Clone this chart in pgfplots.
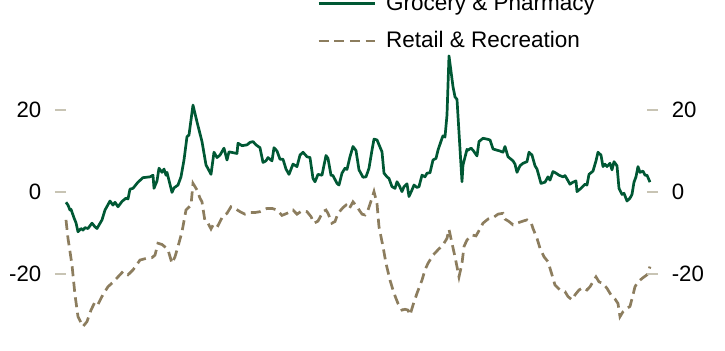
\documentclass[border=0pt]{standalone}
\usepackage{pgfplots}
\pgfplotsset{compat=1.18}
\usepackage{fontspec}
\setmainfont{Liberation Sans}

\definecolor{grocery}{RGB}{0,88,52}
\definecolor{retail}{RGB}{140,125,94}
\definecolor{tickgrey}{RGB}{200,196,180}

\pgfplotsset{
  base/.style={
    x=0.5pt, y=2.05pt,
    xmin=66, xmax=647, ymin=-38.54, ymax=46.83,
    axis x line=none,
    clip=false,
    ytick={-20,0,20},
    yticklabels={-20,0,20},
    tick align=outside,
    major tick length=5.5pt,
    y axis line style={draw=none},
    ytick style={draw=tickgrey, line width=1pt},
    yticklabel style={font=\fontsize{11.1}{13}\selectfont, inner sep=0pt},
  }
}

\begin{document}
\begin{tikzpicture}
\begin{axis}[
    base,
    axis y line*=left,
    yticklabel style={xshift=-6.7pt},
    legend style={at={(axis cs:317,33.4)}, anchor=south west, draw=none, fill=none,
        inner sep=0pt, row sep=5pt, font=\fontsize{11.25}{13}\selectfont},
    legend cell align=left,
    legend image code/.code={\draw[#1] (0pt,0pt) -- (28pt,0pt); \path (31pt,0pt);},
  ]
  \coordinate (bl) at (axis cs:0,-38.54);
  \coordinate (tr) at (axis cs:725,46.83);

  % Grocery & Pharmacy
  \addplot[grocery, line width=1.35pt, line join=round] coordinates {
    (66,-2.5)(68,-3.2)(70,-4.4)(71,-4.2)(74,-6.3)(76,-7.5)(78,-9.7)(81,-8.9)(83,-9.3)(85,-8.7)
    (88,-8.9)(92,-7.6)(95,-8.5)(97,-8.9)(102,-6.8)(105,-4.4)(110,-2.2)(113,-3.2)(115,-2.5)(118,-3.6)
    (122,-2.3)(126,-1.5)(128,-1.7)(130,0.7)(133,0.9)(138,2.4)(143,3.5)(150,3.7)(153,4.1)(154,0.9)
    (157,2.7)(159,5.8)(162,4.8)(164,5.6)(166,4.1)(167,4.8)(172,-0.1)(174,1.0)(178,1.7)(181,3.7)
    (184,7.8)(187,13.5)(189,13.9)(193,21.2)(197,17.1)(202,12.3)(206,6.6)(210,4.8)(211,4.3)(214,9.7)
    (217,8.4)(220,9.0)(224,10.7)(227,7.8)(229,9.8)(237,9.4)(238,11.9)(242,11.3)(247,11.5)(250,12.1)
    (253,12.3)(256,11.5)(260,10.8)(263,7.2)(266,7.6)(268,8.4)(272,7.6)(274,10.8)(277,10.0)(280,8.0)
    (283,8.0)(286,5.6)(289,4.3)(293,6.8)(297,6.2)(300,9.0)(303,9.7)(307,8.6)(310,8.4)(313,3.3)
    (315,2.5)(318,4.3)(322,4.1)(326,8.9)(328,8.2)(331,4.1)(333,4.0)(337,2.1)(339,1.7)(342,4.6)
    (345,5.8)(347,5.5)(350,8.6)(353,11.1)(356,10.1)(359,5.4)(363,3.6)(366,3.7)(369,5.8)(372,10.2)
    (374,12.9)(377,12.7)(382,9.8)(384,4.6)(387,3.7)(389,3.3)(392,1.3)(395,0.9)(397,2.5)(399,1.7)
    (402,0.1)(404,1.3)(407,2.0)(409,-1.1)(412,0.5)(414,1.7)(417,1.1)(419,1.3)(422,4.1)(425,3.7)
    (427,4.6)(430,4.7)(433,7.8)(436,8.2)(438,10.2)(442,13.1)(443,13.7)(445,13.4)(447,18.8)(449,33.2)
    (453,25.7)(455,23.2)(457,22.6)(462,2.5)(463,6.6)(467,10.4)(468,10.2)(471,10.7)(473,10.2)(477,8.8)
    (479,12.3)(483,13.1)(487,12.9)(490,12.7)(493,10.5)(497,10.2)(500,10.0)(503,9.7)(505,11.1)(508,8.6)
    (513,7.6)(515,6.8)(517,4.8)(520,6.4)(523,7.0)(527,7.4)(529,9.7)(532,9.0)(535,6.4)(537,5.6)
    (541,2.1)(545,2.4)(548,3.7)(550,2.9)(553,5.0)(556,4.6)(559,4.1)(563,3.7)(565,4.0)(567,3.2)
    (570,1.9)(573,2.4)(576,2.7)(577,0.1)(581,0.9)(585,1.9)(587,1.7)(589,4.3)(593,5.1)(596,7.6)
    (598,9.7)(601,9.0)(603,6.2)(605,6.8)(607,6.2)(610,7.0)(612,5.4)(614,7.4)(617,6.4)(619,0.9)
    (622,-0.6)(624,-0.3)(627,-2.2)(630,-1.5)(632,-0.6)(634,2.4)(636,3.7)(638,6.2)(640,4.8)(643,5.1)
    (645,4.1)(647,4.1)(650,2.4)
  };
  \addlegendentry{Grocery \& Pharmacy}

  % Retail & Recreation
  \addplot[retail, line width=1.35pt, dash pattern=on 5pt off 2.8pt] coordinates {
    (66,-6.8)(68,-11.3)(72,-17.8)(75,-25.1)(78,-30.4)(83,-32.8)(87,-31.6)(91,-28.8)(95,-26.8)(98,-27.4)
    (103,-25.0)(108,-23.1)(113,-22.0)(118,-20.7)(123,-19.4)(128,-20.2)(133,-19.0)(140,-16.6)(146,-16.2)(152,-16.0)
    (155,-15.4)(158,-12.5)(162,-12.8)(166,-13.6)(168,-14.1)(172,-17.4)(175,-15.8)(178,-13.3)(182,-9.7)(186,-4.4)
    (191,-3.2)(193,2.1)(197,0.5)(200,-1.5)(202,-2.4)(204,-5.6)(205,-7.1)(208,-7.6)(211,-9.0)(214,-7.6)
    (218,-8.2)(223,-5.8)(227,-5.2)(231,-3.6)(235,-4.0)(240,-4.8)(245,-5.4)(250,-5.0)(255,-5.0)(260,-4.8)
    (267,-4.0)(272,-4.0)(277,-4.4)(282,-5.7)(287,-5.2)(293,-4.4)(297,-5.4)(302,-4.6)(307,-4.8)(311,-6.0)
    (314,-7.6)(318,-7.1)(323,-4.8)(326,-4.4)(328,-5.2)(332,-7.6)(335,-7.2)(338,-5.2)(343,-3.8)(346,-3.2)
    (349,-4.2)(353,-2.4)(357,-3.6)(362,-5.4)(365,-5.6)(368,-4.4)(372,-1.5)(374,0.1)(377,-2.8)(379,-8.5)
    (383,-13.3)(386,-17.4)(390,-21.5)(394,-24.7)(398,-27.2)(402,-28.8)(405,-28.6)(408,-28.8)(410,-30.0)(413,-27.6)
    (417,-24.7)(422,-21.5)(425,-19.0)(428,-17.4)(433,-15.4)(438,-14.1)(443,-12.9)(447,-11.3)(449,-9.1)(452,-12.5)
    (455,-15.8)(459,-20.7)(462,-17.4)(464,-13.3)(467,-11.7)(472,-10.5)(476,-10.7)(480,-9.0)(483,-7.6)(488,-6.6)
    (493,-6.3)(498,-5.4)(503,-5.2)(505,-6.6)(509,-7.2)(513,-8.0)(517,-7.6)(523,-7.1)(527,-6.8)(531,-7.4)
    (533,-8.9)(537,-11.3)(540,-13.7)(544,-15.8)(548,-17.0)(552,-20.2)(555,-22.7)(560,-23.9)(565,-24.3)(568,-25.5)
    (572,-26.3)(575,-25.1)(579,-23.9)(583,-23.3)(587,-23.9)(590,-23.1)(593,-21.9)(596,-20.7)(599,-21.9)(603,-22.3)
    (607,-23.5)(611,-25.1)(615,-26.1)(618,-27.2)(620,-30.4)(623,-29.2)(627,-28.4)(630,-27.9)(633,-25.1)(635,-23.1)
    (638,-21.9)(643,-20.9)(647,-20.2)(650,-18.2)
  };
  \addlegendentry{Retail \& Recreation}
\end{axis}

% same scale, ticks and labels on the right
\begin{axis}[
    base,
    axis y line*=right,
    yticklabel style={xshift=6.7pt},
  ]
  \addplot[draw=none] coordinates {(66,0)};
\end{axis}

\pgfresetboundingbox
\path (bl) rectangle (tr);
\end{tikzpicture}
\end{document}
